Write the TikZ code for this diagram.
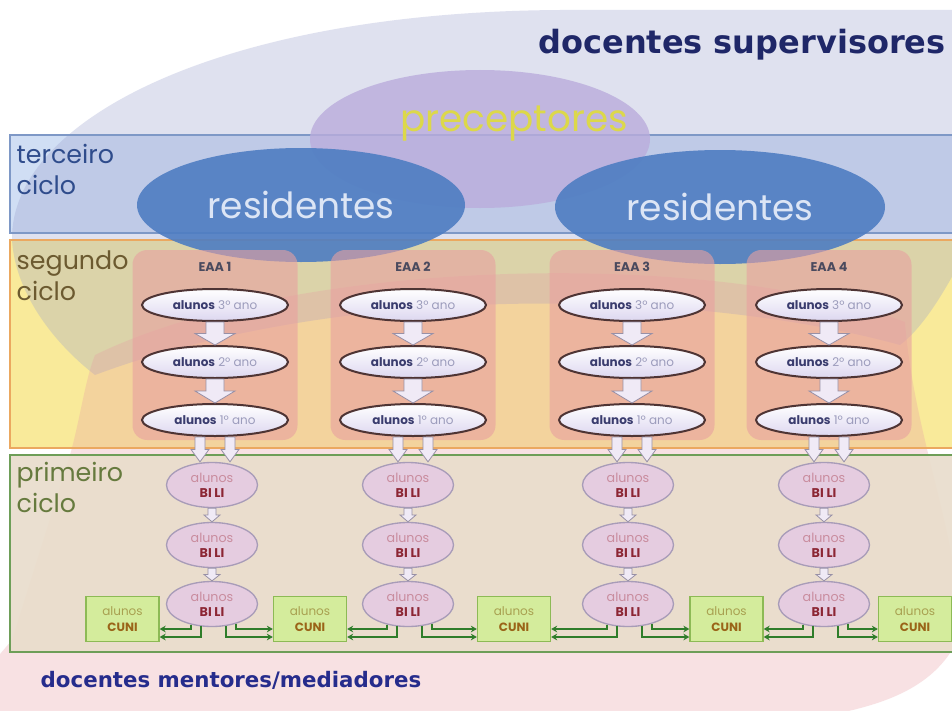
\documentclass[tikz,border=0pt]{standalone}
\usepackage{fontspec}
\setmainfont{Poppins}
\newfontfamily\dvs{DejaVu Sans}
\usetikzlibrary{calc,shapes.geometric,arrows.meta}
\definecolor{lavov}{HTML}{989ECC}
\definecolor{pinkov}{HTML}{E89EA5}
\definecolor{terfill}{HTML}{D0DEF4}
\definecolor{terline}{HTML}{7E98C6}
\definecolor{segfill}{HTML}{F9EA9A}
\definecolor{segline}{HTML}{EBA860}
\definecolor{prifill}{HTML}{E9DDCC}
\definecolor{priline}{HTML}{6E9E58}
\definecolor{precfill}{HTML}{BAACDC}
\definecolor{prectext}{HTML}{DCD84A}
\definecolor{resfill}{HTML}{4E7DC2}
\definecolor{restext}{HTML}{DCE5F5}
\definecolor{eaafill}{HTML}{E8A0A0}
\definecolor{eaatext}{HTML}{4A4A5E}
\definecolor{anofill}{HTML}{DDD7F0}
\definecolor{anoline}{HTML}{4E3434}
\definecolor{anobold}{HTML}{3A3C6E}
\definecolor{anolight}{HTML}{9C9CBC}
\definecolor{bilifill}{HTML}{E5CCE0}
\definecolor{bililine}{HTML}{A89CB8}
\definecolor{bilialun}{HTML}{C98C9E}
\definecolor{bilibold}{HTML}{8C2634}
\definecolor{cunifill}{HTML}{D4EC9C}
\definecolor{cuniline}{HTML}{8DBA55}
\definecolor{cunialun}{HTML}{A8A050}
\definecolor{cunibold}{HTML}{9A6418}
\definecolor{conncol}{HTML}{2F7D2A}
\definecolor{arrfill}{HTML}{F0EAF6}
\definecolor{arrline}{HTML}{9890A6}
\definecolor{supcol}{HTML}{1F2768}
\definecolor{mentcol}{HTML}{262C8C}
\definecolor{tercol}{HTML}{2F4C8C}
\definecolor{segcol}{HTML}{6C5A30}
\definecolor{pricol}{HTML}{667A3E}
\newcommand{\blkarrow}[5]{%
  \filldraw[blockarr] let \p1=($(#1.south)+(#3,0)$), \p2=(#2.north) in
   (\x1-#4,\y1) -- (\x1+#4,\y1) -- (\x1+#4,{0.5*(\y1+\y2)}) -- (\x1+#5,{0.5*(\y1+\y2)})
   -- (\x1,\y2) -- (\x1-#5,{0.5*(\y1+\y2)}) -- (\x1-#4,{0.5*(\y1+\y2)}) -- cycle;}
\begin{document}
\begin{tikzpicture}[x=0.75pt,y=-0.75pt,
  eaabox/.style={rectangle, rounded corners=11pt, fill=eaafill, fill opacity=0.6, minimum width=123.75pt, minimum height=142.5pt, inner sep=0pt},
  eaalabel/.style={font=\fontsize{9.5}{11}\selectfont\bfseries, text=eaatext},
  yearell/.style={ellipse, draw=anoline, line width=1.5pt, top color=white, bottom color=anofill, minimum width=109.5pt, minimum height=24pt, inner sep=0pt, font=\fontsize{9}{10}\selectfont, text=anobold},
  bili/.style={ellipse, draw=bililine, line width=1pt, fill=bilifill, minimum width=68.25pt, minimum height=33.75pt, inner sep=0pt, align=center, font=\fontsize{9.5}{10}\selectfont, text=bilialun},
  cuni/.style={rectangle, draw=cuniline, line width=1pt, fill=cunifill, minimum width=54.75pt, minimum height=33.75pt, inner sep=0pt, align=center, font=\fontsize{9}{10}\selectfont, text=cunialun},
  blockarr/.style={fill=arrfill, draw=arrline, line width=0.6pt, line join=miter},
  conn/.style={draw=conncol, line width=1.5pt, -{Stealth[length=4.5pt,width=5pt]}},
  cyclabel/.style={anchor=north west, align=left, font=\fontsize{19}{23}\selectfont}
]
\useasboundingbox (0,0) rectangle (952,710);
\clip (0,0) rectangle (952,710);
\fill[white] (0,0) rectangle (952,710);
% bands (fills)
\fill[terfill] (10,135) rectangle (952,233);
\fill[segfill] (10,240) rectangle (952,448);
% overlay shapes: docentes supervisores / mentores
\fill[lavov, fill opacity=0.3] (12,240) .. controls (10,120) and (220,12) .. (560,10) -- (960,10) -- (960,262)
  .. controls (940,300) and (920,330) .. (900,345) .. controls (700,290) and (350,280) .. (95,375)
  .. controls (50,340) and (15,290) .. (12,240) -- cycle;
\fill[pinkov, fill opacity=0.3] (95,355) .. controls (300,255) and (720,250) .. (905,322)
  .. controls (915,450) and (970,560) .. (955,645) .. controls (930,690) and (880,705) .. (830,715)
  -- (-5,715) -- (-5,660) -- (12,640) -- (70,455) .. controls (80,420) and (85,380) .. (95,355) -- cycle;
\fill[prifill, fill opacity=0.92] (10,455) rectangle (952,652);
% band borders
\draw[terline, line width=1.5pt] (10,135) rectangle (953,233);
\draw[segline, line width=1.5pt] (10,240) rectangle (953,448);
\draw[priline, line width=1.5pt] (10,455) rectangle (953,652);
% cycle labels
\node[cyclabel, text=tercol] (lter) at (12,140) {terceiro\\ciclo};
\node[cyclabel, text=segcol] (lseg) at (12,246) {segundo\\ciclo};
\node[cyclabel, text=pricol] (lpri) at (12,458) {primeiro\\ciclo};
% preceptores & residentes
\node[ellipse, fill=precfill, fill opacity=0.8, minimum width=255pt, minimum height=103.5pt, inner sep=0pt] (prec) at (480,139) {};
\node[text=prectext, font=\fontsize{28}{30}\selectfont] (prectxt) at (514,124) {preceptores};
\node[ellipse, fill=resfill, fill opacity=0.9, text opacity=1, minimum width=246pt, minimum height=85.5pt, inner sep=0pt, text=restext, font=\fontsize{27}{30}\selectfont] (res1) at (301,205) {residentes};
\node[ellipse, fill=resfill, fill opacity=0.9, text opacity=1, minimum width=247.5pt, minimum height=85.5pt, inner sep=0pt, text=restext, font=\fontsize{27}{30}\selectfont] (res2) at (720,207) {residentes};
% titles
\node[font=\dvs\bfseries\fontsize{24}{27}\selectfont, text=supcol] (sup) at (742,45) {docentes supervisores};
\node[anchor=west, font=\dvs\bfseries\fontsize{16}{18}\selectfont, text=mentcol] (ment) at (36,680) {docentes mentores/mediadores};
% CUNI boxes
\foreach \k/\cx in {0/122.5,1/310,2/514,3/726.5,4/915}{
  \node[cuni] (c\k) at (\cx,619) {alunos\\[2pt]\textcolor{cunibold}{\bfseries CUNI}};
}
% EAA columns
\foreach \i/\ex/\bx in {1/215/212, 2/413/408, 3/632/628, 4/829/824}{
  \node[eaabox] (e\i) at (\ex,345) {};
  \node[eaalabel] (t\i) at (\ex,267) {EAA \i};
  \node[yearell] (ya\i) at (\ex,305) {\textbf{alunos} \textcolor{anolight}{3º ano}};
  \node[yearell] (yb\i) at (\ex,362) {\textbf{alunos} \textcolor{anolight}{2º ano}};
  \node[yearell] (yc\i) at (\ex,420) {\textbf{alunos} \textcolor{anolight}{1º ano}};
  \node[bili] (ba\i) at (\bx,485) {alunos\\[1.5pt]\textcolor{bilibold}{\bfseries BI LI}};
  \node[bili] (bb\i) at (\bx,545) {alunos\\[1.5pt]\textcolor{bilibold}{\bfseries BI LI}};
  \node[bili] (bc\i) at (\bx,604) {alunos\\[1.5pt]\textcolor{bilibold}{\bfseries BI LI}};
  \blkarrow{ya\i}{yb\i}{0}{6.75pt}{15pt}
  \blkarrow{yb\i}{yc\i}{0}{6.75pt}{15pt}
  \blkarrow{yc\i}{ba\i}{-15}{3.75pt}{6.75pt}
  \blkarrow{yc\i}{ba\i}{15}{3.75pt}{6.75pt}
  \blkarrow{ba\i}{bb\i}{0}{3pt}{6pt}
  \blkarrow{bb\i}{bc\i}{0}{3pt}{6pt}
  \pgfmathtruncatemacro{\j}{\i-1}
  \draw[conn] (bc\i.225) |- ($(c\j.east)+(0,10)$);
  \draw[conn] (bc\i.243) |- ($(c\j.east)+(0,18)$);
  \draw[conn] (bc\i.321) |- ($(c\i.west)+(0,10)$);
  \draw[conn] (bc\i.303) |- ($(c\i.west)+(0,18)$);
}
\end{tikzpicture}
\end{document}
